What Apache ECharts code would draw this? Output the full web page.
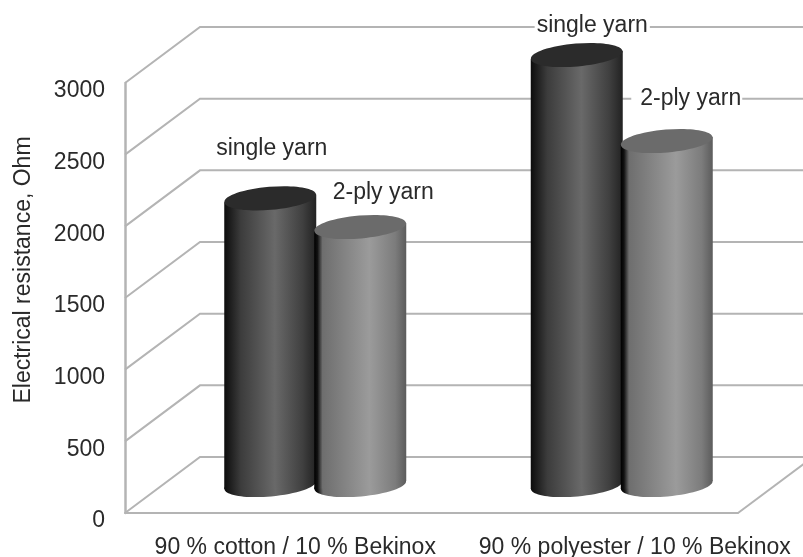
<!DOCTYPE html>
<html>
<head>
<meta charset="utf-8">
<style>html,body{margin:0;padding:0;background:#fff}#chart{width:803px;height:557px}</style>
<script src="https://cdn.jsdelivr.net/npm/echarts@6/dist/echarts.min.js"></script>
</head>
<body>
<div id="chart"></div>
<script>
// Electrical resistance of yarns by blend
const categories = ['90 % cotton / 10 % Bekinox', '90 % polyester / 10 % Bekinox'];
const singleYarn = [2000, 3000];
const plyYarn = [1800, 2400];
const yTicks = [0, 500, 1000, 1500, 2000, 2500, 3000];

// Oblique projection of the chart box, in pixels
const DEPTH_X = 75, DEPTH_Y = -56;
const RADIUS_X = 46, RADIUS_Y = 11.5, TILT = 0.085;
const FONT = '"Liberation Sans", Arial, sans-serif';
const LINE = '#b4b4b4';
const INK = '#2a2a2a';

const darkBody = {type:'linear',x:0,y:0,x2:1,y2:0,colorStops:[
  {offset:0,color:'#0c0c0c'},{offset:0.18,color:'#3c3c3c'},{offset:0.55,color:'#696969'},{offset:0.85,color:'#404040'},{offset:1,color:'#222'}]};
const lightBody = {type:'linear',x:0,y:0,x2:1,y2:0,colorStops:[
  {offset:0,color:'#000'},{offset:0.035,color:'#111'},{offset:0.09,color:'#6e6e6e'},{offset:0.6,color:'#9b9b9b'},{offset:0.88,color:'#7c7c7c'},{offset:1,color:'#5c5c5c'}]};

function cylinder(params, api, side, body, cap) {
  const cat = api.value(0), val = api.value(1);
  const front = api.coord([cat, 0]);
  const cx = front[0] + DEPTH_X / 2 + (side < 0 ? -45.5 : 44.5);
  const yBottom = front[1] + DEPTH_Y / 2;
  const yTop = api.coord([cat, val])[1] + DEPTH_Y / 2;
  const dy = RADIUS_X * Math.sin(TILT);
  const ellipse = (cy, fill) => ({
    type: 'ellipse',
    shape: {cx, cy, rx: RADIUS_X, ry: RADIUS_Y},
    x: 0, y: 0, originX: cx, originY: cy, rotation: TILT,
    style: {fill}
  });
  return {
    type: 'group',
    children: [
      ellipse(yBottom, body),
      {type: 'polygon', shape: {points: [
        [cx - RADIUS_X, yTop + dy], [cx + RADIUS_X, yTop - dy],
        [cx + RADIUS_X, yBottom - dy], [cx - RADIUS_X, yBottom + dy]]},
        style: {fill: body}},
      ellipse(yTop, cap)
    ]
  };
}

// Annotation per bar, shifted off its cylinder
const singleNudge = [[1.5, -49.5], [15.5, -29.5]];
const plyNudge = [[18, -34.5], [19, -42.5]];
function yarnLabel(params, api, side, text, nudge, pad) {
  const cat = api.value(0), val = api.value(1);
  const p = api.coord([cat, val]);
  const n = nudge[params.dataIndex];
  return {
    type: 'text',
    x: p[0] + DEPTH_X / 2 + side * 45.5 + n[0],
    y: p[1] + DEPTH_Y / 2 + n[1],
    style: {text, font: '23px ' + FONT, fill: INK, align: 'center', verticalAlign: 'middle',
      backgroundColor: '#fff', padding: pad}
  };
}

const chart = echarts.init(document.getElementById('chart'), null, {renderer: 'canvas'});
chart.setOption({
  animation: false,
  backgroundColor: '#fff',
  grid: {left: 125, right: 65, top: 83, bottom: 44, outerBoundsMode: 'none'},
  xAxis: {
    type: 'category',
    data: [
      {value: categories[0], textStyle: {padding: [0, 0, 0, 34]}},
      {value: categories[1], textStyle: {padding: [0, 0, 0, 100]}}
    ],
    axisLine: {show: true, lineStyle: {color: LINE, width: 2}},
    axisTick: {show: false},
    axisLabel: {interval: 0, margin: 23, fontFamily: FONT, fontSize: 23, color: INK, hideOverlap: false}
  },
  yAxis: {
    type: 'value', min: 0, max: 3000, interval: 500,
    name: 'Electrical resistance, Ohm', nameLocation: 'middle', nameGap: 90,
    nameTextStyle: {fontFamily: FONT, fontSize: 23, color: INK, padding: [0, 0, 0, 56]},
    axisLine: {show: true, lineStyle: {color: LINE, width: 2.5}},
    axisTick: {show: false},
    splitLine: {show: false},
    axisLabel: {margin: 20, fontFamily: FONT, fontSize: 23, color: INK, verticalAlign: 'top', lineHeight: 16, formatter: v => String(v)}
  },
  series: [
    {
      // Side wall, back wall and floor edges of the box
      type: 'custom', name: 'walls', silent: true, z: 1,
      coordinateSystem: 'cartesian2d',
      data: yTicks.map(v => [0, v]),
      renderItem(params, api) {
        const v = api.value(1);
        const p = api.coord([0, v]);
        const left = api.coord([0, 0])[0] - api.size([1, 0])[0] / 2;
        const right = left + api.size([1, 0])[0] * categories.length;
        const style = {stroke: LINE, lineWidth: 2, fill: null};
        const children = [{type: 'polyline', shape: {points: [
          [left, p[1]], [left + DEPTH_X, p[1] + DEPTH_Y], [right + DEPTH_X, p[1] + DEPTH_Y]]}, style}];
        if (v === 0) children.push({type: 'line', shape: {x1: right, y1: p[1], x2: right + DEPTH_X, y2: p[1] + DEPTH_Y}, style});
        return {type: 'group', children};
      }
    },
    {
      type: 'custom', name: 'single yarn', z: 2, data: singleYarn.map((v, i) => [i, v]),
      renderItem: (params, api) => cylinder(params, api, -1, darkBody, '#2b2b2b')
    },
    {
      type: 'custom', name: '2-ply yarn', z: 3, data: plyYarn.map((v, i) => [i, v]),
      renderItem: (params, api) => cylinder(params, api, 1, lightBody, '#6b6b6b')
    },
    {
      type: 'custom', name: 'single yarn labels', z: 4, silent: true, data: singleYarn.map((v, i) => [i, v]),
      renderItem: (params, api) => yarnLabel(params, api, -1, 'single yarn', singleNudge, [1, 2])
    },
    {
      type: 'custom', name: '2-ply yarn labels', z: 4, silent: true, data: plyYarn.map((v, i) => [i, v]),
      renderItem: (params, api) => yarnLabel(params, api, 1, '2-ply yarn', plyNudge, [1, 1, 1, 9])
    }
  ]
});
</script>
</body>
</html>
